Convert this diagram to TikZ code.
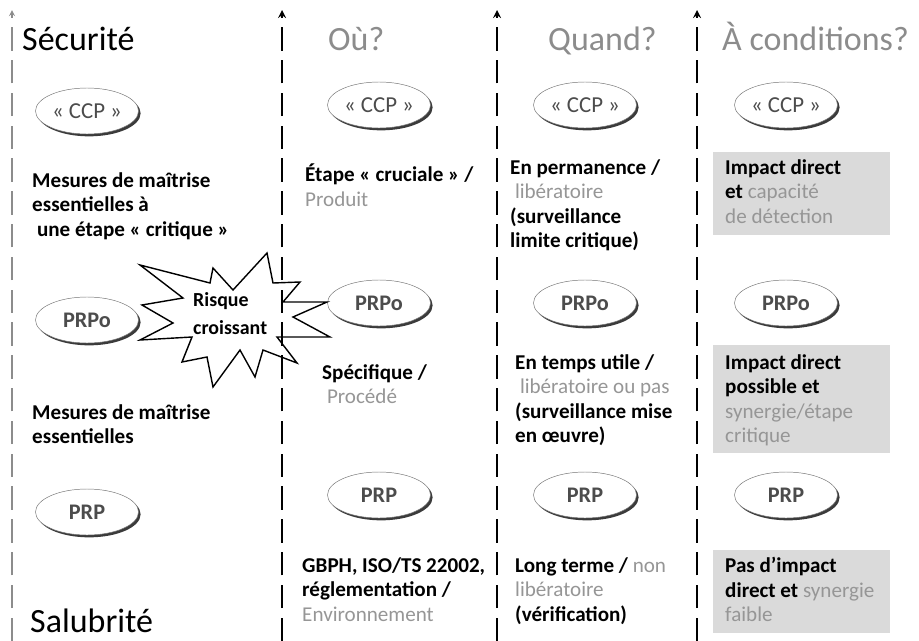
\documentclass[tikz,border=0pt]{standalone}
\usepackage{fontspec}
\setmainfont{Carlito}
\usetikzlibrary{positioning, shapes, shadows, arrows}

\definecolor{paleText}{RGB}{150,150,150}
\definecolor{headText}{RGB}{140,140,140}
\definecolor{boxFill}{RGB}{218,218,218}

\newcommand{\pale}[1]{{\mdseries\color{paleText}#1}}

\tikzset{
	measure/.style = {shape = ellipse, draw = black!55, thin, fill = white,
		minimum width = 3.09cm, minimum height = 1.38cm, inner sep = 0pt,
		drop shadow = {shadow xshift = 1.8pt, shadow yshift = -2pt, fill = black!85, opacity = 0.9},
		font = \fontsize{19}{21}\selectfont\bfseries, text = black!70},
	ccp/.style = {measure, font = \fontsize{19.5}{21}\selectfont},
	block/.style = {anchor = north west, align = left, inner sep = 0pt,
		font = \fontsize{18}{21}\selectfont\bfseries},
	headline/.style = {anchor = base west, inner sep = 0pt, font = \fontsize{29}{34}\selectfont},
	condbox/.style = {fill = boxFill, minimum width = 5.31cm, inner sep = 0pt},
	burst/.style = {draw, fill = white, line width = 1.2pt, line join = miter},
	axis/.style = {-stealth, line width = 2pt, dash pattern = on 20pt off 8pt}
}

\begin{document}
\begin{tikzpicture}[x = 0.03cm, y = -0.03cm]
	\useasboundingbox (0, 0) rectangle (919, 641);

	% headings
	\node[headline] (h1) at (22, 50) {Sécurité};
	\node[headline, text = headText] (h2) at (328, 50) {Où?};
	\node[headline, text = headText] (h3) at (548, 50) {Quand?};
	\node[headline, text = headText] (h4) at (722, 50) {À conditions?};
	\node[headline] (h5) at (30, 632) {Salubrité};

	% ellipses
	\node[ccp] (ccp1) at (87, 111) {« CCP »};
	\node[ccp] (ccp2) at (379, 105) {« CCP »};
	\node[ccp] (ccp3) at (585, 105) {« CCP »};
	\node[ccp] (ccp4) at (786, 105) {« CCP »};

	\node[measure] (prpo1) at (87, 320) {PRPo};
	\node[measure] (prpo2) at (379, 303) {PRPo};
	\node[measure] (prpo3) at (585, 303) {PRPo};
	\node[measure] (prpo4) at (786, 303) {PRPo};

	\node[measure] (prp1) at (87, 512) {PRP};
	\node[measure] (prp2) at (379, 495) {PRP};
	\node[measure] (prp3) at (585, 495) {PRP};
	\node[measure] (prp4) at (786, 495) {PRP};

	% first column
	\node[block] (sec1) at (32, 172) {Mesures de maîtrise\\essentielles à\\\ une étape « critique »};
	\node[block] (sec2) at (32, 404) {Mesures de maîtrise\\essentielles};

	% where
	\node[block] (ou1) at (305, 164) {Étape « cruciale » /\\\pale{Produit}};
	\node[block] (ou2) at (322, 364) {Spécifique /\\\ \pale{Procédé}};
	\node[block] (ou3) at (302, 557) {GBPH, ISO/TS 22002,\\réglementation /\\\pale{Environnement}};

	% when
	\node[block] (qd1) at (510, 159) {En permanence /\\\ \pale{libératoire}\\(surveillance\\limite critique)};
	\node[block] (qd2) at (515, 354) {En temps utile /\\\ \pale{libératoire ou pas}\\(surveillance mise\\en œuvre)};
	\node[block] (qd3) at (515, 557) {Long terme / \pale{non}\\\pale{libératoire}\\(vérification)};

	% conditions
	\node[condbox, minimum height = 2.49cm] (cd1) at (801.5, 193.5) {};
	\node[condbox, minimum height = 3.24cm] (cd2) at (801.5, 399) {};
	\node[condbox, minimum height = 2.49cm] (cd3) at (801.5, 591.5) {};
	\node[block] (cdt1) at (725, 159) {Impact direct\\et \pale{capacité}\\\pale{de détection}};
	\node[block] (cdt2) at (725, 354) {Impact direct\\possible et\\\pale{synergie/étape}\\\pale{critique}};
	\node[block] (cdt3) at (725, 557) {Pas d’impact\\direct et \pale{synergie}\\\pale{faible}};

	% risk star
	\draw[burst] (140, 265) -- (210, 283) -- (213, 268) -- (233, 290) -- (267, 253)
		-- (273, 283) -- (300, 282) -- (283, 302) -- (327, 302) -- (293, 317)
		-- (330, 337) -- (277, 337) -- (297, 363) -- (263, 350) -- (255, 377)
		-- (240, 350) -- (213, 387) -- (207, 357) -- (182, 362) -- (192, 337)
		-- (140, 340) -- (173, 323) -- (142, 305) -- (183, 298) -- cycle;
	\node[block, font = \fontsize{17}{24}\selectfont\bfseries] (risk) at (193, 292) {Risque\\croissant};

	% axes
	\coordinate (b1) at (12, 641);  \coordinate (t1) at (12, 10);
	\coordinate (b2) at (282, 641); \coordinate (t2) at (282, 10);
	\coordinate (b3) at (497, 641); \coordinate (t3) at (497, 10);
	\coordinate (b4) at (697, 641); \coordinate (t4) at (697, 10);

	\draw[axis, line width = 1.3pt, black!45] (b1) edge (t1);
	\draw[axis]
	(b2) edge (t2)
	(b3) edge (t3)
	(b4) edge (t4);

\end{tikzpicture}
\end{document}
